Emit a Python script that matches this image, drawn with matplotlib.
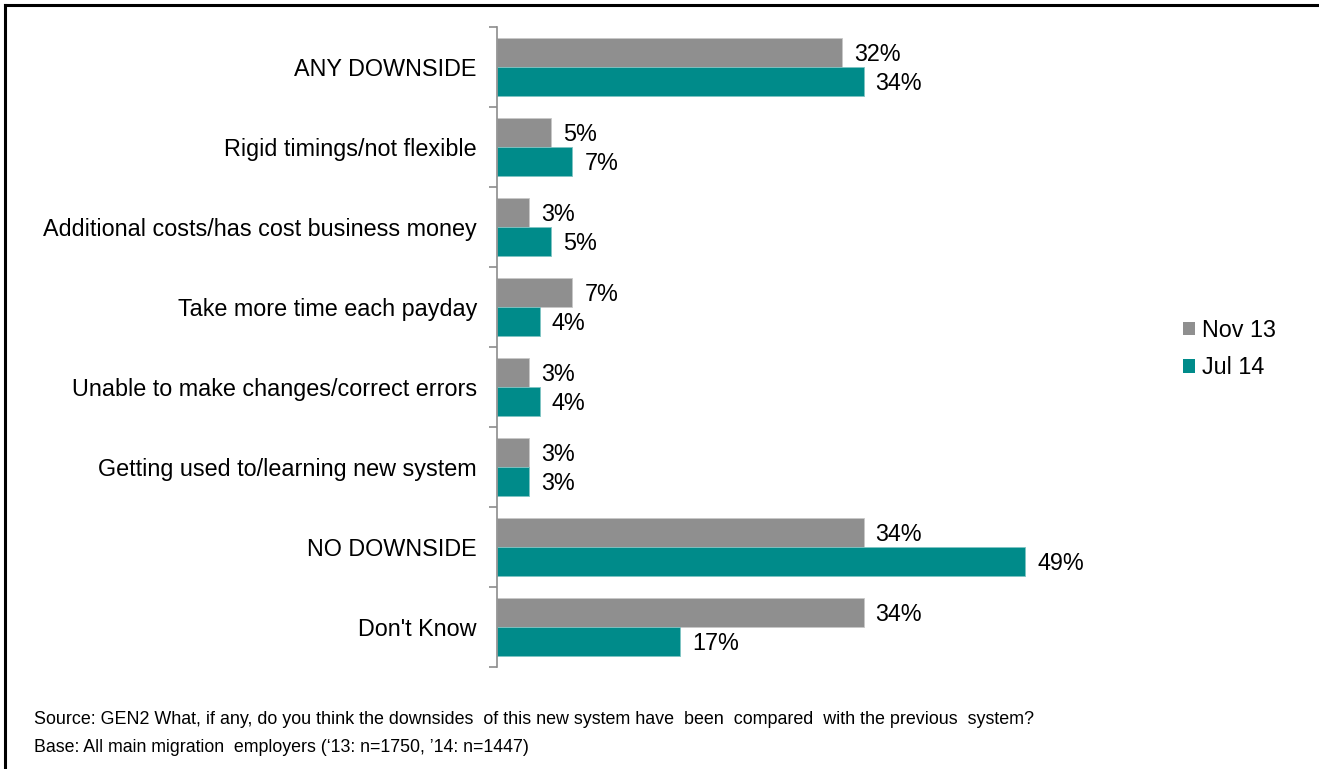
import matplotlib.pyplot as plt
import numpy as np
from matplotlib.lines import Line2D
from matplotlib.patches import Patch

plt.rcParams['font.family'] = ['Liberation Sans', 'DejaVu Sans']

categories = [
    "ANY DOWNSIDE",
    "Rigid timings/not flexible",
    "Additional costs/has cost business money",
    "Take more time each payday",
    "Unable to make changes/correct errors",
    "Getting used to/learning new system",
    "NO DOWNSIDE",
    "Don't Know",
]
nov13 = [32, 5, 3, 7, 3, 3, 34, 34]
jul14 = [34, 7, 5, 4, 4, 3, 49, 17]
series_names = ["Nov 13", "Jul 14"]

grey = "#8f8f8f"
teal = "#008b8a"
fs = 16.8

fig = plt.figure(figsize=(13.19, 7.69), dpi=100)
ax = fig.add_axes([497 / 1319, 102 / 769, 593 / 1319, 640 / 769])

y = np.arange(len(categories))
h = 0.3625
ax.barh(y - h / 2, nov13, height=h, color=grey, edgecolor="#c8c8c8", linewidth=0.6)
ax.barh(y + h / 2, jul14, height=h, color=teal, edgecolor="#7fc4c3", linewidth=0.6)

for i in range(len(categories)):
    ax.text(nov13[i] + 1.1, y[i] - h / 2 + 0.03, f"{nov13[i]}%", va="center", ha="left", fontsize=fs)
    ax.text(jul14[i] + 1.1, y[i] + h / 2 + 0.03, f"{jul14[i]}%", va="center", ha="left", fontsize=fs)

ax.set_xlim(0, 55)
ax.set_ylim(len(categories) - 0.5, -0.5)
ax.set_xticks([])
ax.set_yticks(np.arange(-0.5, len(categories), 1.0))
ax.set_yticklabels([])
ax.set_yticks(y, minor=True)
ax.set_yticklabels(categories, minor=True, fontsize=fs)
ax.tick_params(axis="y", which="major", length=6, width=1.2, color="#8c8c8c", direction="out")
ax.tick_params(axis="y", which="minor", length=0, pad=14.4)
for side in ["top", "right", "bottom"]:
    ax.spines[side].set_visible(False)
ax.spines["left"].set_color("#8c8c8c")
ax.spines["left"].set_linewidth(1.2)

handles = [Patch(facecolor=grey), Patch(facecolor=teal)]
fig.legend(handles, series_names, loc="center left", bbox_to_anchor=(1162 / 1319, 1 - 349 / 769),
           frameon=False, fontsize=fs, handlelength=0.5, handleheight=0.5,
           handletextpad=0.3, labelspacing=0.62)

fig.text(34 / 1319, 1 - 720 / 769,
         "Source: GEN2 What, if any, do you think the downsides  of this new system have  been  "
         "compared  with the previous  system?",
         fontsize=12.9, va="center", ha="left")
fig.text(34 / 1319, 1 - 748 / 769,
         "Base: All main migration  employers (\u201813: n=1750, \u201914: n=1447)",
         fontsize=12.8, va="center", ha="left")

# frame lines along the top and left edge
fig.add_artist(Line2D([5 / 1319, 1.0], [1 - 5 / 769, 1 - 5 / 769], color="black", linewidth=2.2,
                      transform=fig.transFigure))
fig.add_artist(Line2D([5 / 1319, 5 / 1319], [0.0, 1 - 5 / 769], color="black", linewidth=2.2,
                      transform=fig.transFigure))

fig.savefig("out.png", dpi=100)
